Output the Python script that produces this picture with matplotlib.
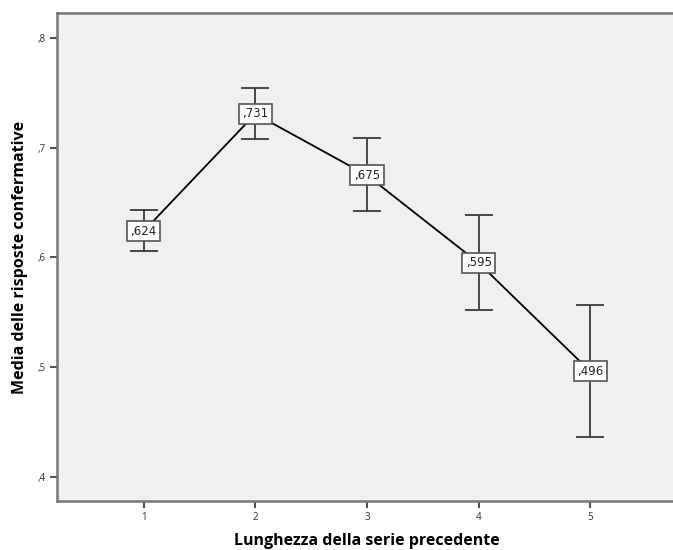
import matplotlib
matplotlib.use("Agg")
import matplotlib.pyplot as plt

# Mean confirmative answers by length of the preceding run, with 95% CI
lunghezza = [1, 2, 3, 4, 5]
media = [0.624, 0.731, 0.675, 0.595, 0.496]
ci_basso = [0.606, 0.708, 0.642, 0.552, 0.436]
ci_alto = [0.643, 0.755, 0.709, 0.639, 0.557]
etichette = [",624", ",731", ",675", ",595", ",496"]
y_ticks = [0.4, 0.5, 0.6, 0.7, 0.8]
y_labels = [",4", ",5", ",6", ",7", ",8"]

plt.rcParams['font.family'] = ['Open Sans', 'DejaVu Sans']

fig = plt.figure(figsize=(6.73, 5.5), dpi=100)
ax = fig.add_axes([57 / 673, 49 / 550, 620 / 673, 487.7 / 550])
ax.set_facecolor('#f0f0f0')

err_lo = [m - lo for m, lo in zip(media, ci_basso)]
err_hi = [hi - m for m, hi in zip(media, ci_alto)]
ax.errorbar(lunghezza, media, yerr=[err_lo, err_hi], fmt='none',
            ecolor='#3a3a3a', elinewidth=1.3, capsize=10, capthick=1.3, zorder=2)
ax.plot(lunghezza, media, color='black', linewidth=1.3, zorder=3)

for x, y, txt in zip(lunghezza, media, etichette):
    ax.text(x, y, txt, ha='center', va='center', fontsize=8.5, color='#222222',
            family=['DejaVu Sans'], zorder=4,
            bbox=dict(boxstyle='square,pad=0.3', facecolor='white',
                      edgecolor='#555555', linewidth=1.2))

ax.set_xlim(0.224, 5.776)
ax.set_ylim(0.3778, 0.8228)
ax.set_xticks(lunghezza)
ax.set_xticklabels([str(v) for v in lunghezza])
ax.set_yticks(y_ticks)
ax.set_yticklabels(y_labels)
ax.tick_params(axis='both', direction='out', length=5, width=1.5,
               color='#555555', labelsize=7, labelcolor='#333333', pad=3)

for side in ['left', 'bottom', 'top', 'right']:
    ax.spines[side].set_color('#777777')
    ax.spines[side].set_linewidth(1.8)

ax.set_xlabel("Lunghezza della serie precedente", fontsize=11.5,
              fontweight='bold', labelpad=7)
ax.set_ylabel("Media delle risposte confermative", fontsize=11.5,
              fontweight='bold', labelpad=7)

fig.savefig("out.png", dpi=100)
